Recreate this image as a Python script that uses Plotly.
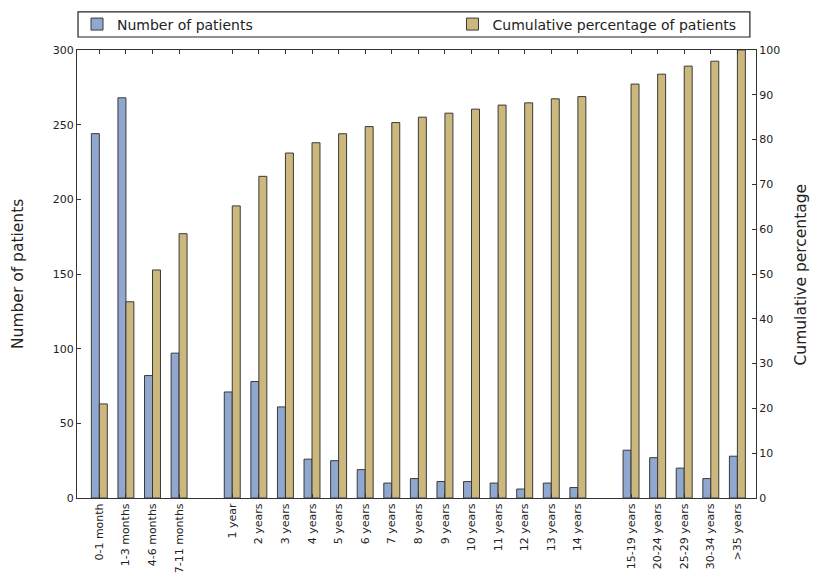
import plotly.graph_objects as go

categories = ["0-1 month", "1-3 months", "4-6 months", "7-11 months",
              "1 year", "2 years", "3 years", "4 years", "5 years", "6 years", "7 years",
              "8 years", "9 years", "10 years", "11 years", "12 years", "13 years", "14 years",
              "15-19 years", "20-24 years", "25-29 years", "30-34 years", ">35 years"]
patients = [244, 268, 82, 97,
            71, 78, 61, 26, 25, 19, 10, 13, 11, 11, 10, 6, 10, 7,
            32, 27, 20, 13, 28]
cumulative_pct = [21.0, 43.8, 50.9, 59.0,
                  65.2, 71.8, 77.0, 79.3, 81.3, 82.9, 83.8, 85.0, 85.9, 86.8, 87.7, 88.2, 89.1, 89.6,
                  92.4, 94.6, 96.4, 97.5, 100.0]
group_breaks = [4, 18]  # a blank slot is left before these category indices
left_ticks = [0, 50, 100, 150, 200, 250, 300]
right_ticks = [0, 10, 20, 30, 40, 50, 60, 70, 80, 90, 100]

xpos = []
shift = 0
for i in range(len(categories)):
    if i in group_breaks:
        shift += 1
    xpos.append(i + shift)

BLUE = "#90a7d0"
TAN = "#ccb87d"
EDGE = "#3a3a3a"
FONT = "DejaVu Sans"

fig = go.Figure()
fig.add_trace(go.Bar(x=xpos, y=patients, name="Number of patients",
                     offset=-0.3, width=0.3, yaxis="y", legend="legend",
                     marker=dict(color=BLUE, line=dict(color=EDGE, width=1))))
fig.add_trace(go.Bar(x=xpos, y=cumulative_pct, name="Cumulative percentage of patients",
                     offset=0.0, width=0.3, yaxis="y2", legend="legend2",
                     marker=dict(color=TAN, line=dict(color=EDGE, width=1))))

legend_common = dict(orientation="h", yanchor="middle", y=1.057,
                     bgcolor="rgba(0,0,0,0)", borderwidth=0,
                     font=dict(family=FONT, size=14, color="#222"), itemwidth=30)

# the page body adds an 8px offset, so the figure is 8px smaller on each axis
fig.update_layout(
    width=810, height=575,
    margin=dict(l=69, r=62, t=42, b=85, autoexpand=False),
    paper_bgcolor="white", plot_bgcolor="white",
    font=dict(family=FONT, size=11, color="#222"),
    barmode="overlay",
    showlegend=True,
    legend=dict(x=0.0, xanchor="left", **legend_common),
    legend2=dict(x=0.553, xanchor="left", **legend_common),
    shapes=[dict(type="rect", xref="paper", yref="paper", x0=0.0015, x1=0.991,
                 y0=1.029, y1=1.085, line=dict(color="#222", width=1.2),
                 fillcolor="rgba(0,0,0,0)", layer="above")],
    annotations=[
        dict(text="Number of patients", xref="paper", yref="paper",
             x=-0.0869, y=0.5, xanchor="center", yanchor="middle",
             textangle=-90, showarrow=False,
             font=dict(family=FONT, size=15.5, color="#222")),
        dict(text="Cumulative percentage", xref="paper", yref="paper",
             x=1.067, y=0.5, xanchor="center", yanchor="middle",
             textangle=-90, showarrow=False,
             font=dict(family=FONT, size=15.5, color="#222")),
    ],
    xaxis=dict(range=[-0.84, 24.7], tickmode="array", tickvals=xpos, ticktext=categories,
               tickangle=-90, ticks="inside", ticklen=4, tickcolor="#333",
               showline=True, linecolor="#333", linewidth=1, mirror="ticks",
               showgrid=False, zeroline=False, tickfont=dict(size=11), automargin=False),
    yaxis=dict(range=[0, 300], tickmode="array", tickvals=left_ticks,
               ticks="inside", ticklen=4, tickcolor="#333",
               showline=True, linecolor="#333", linewidth=1, mirror=False,
               showgrid=False, zeroline=False, tickfont=dict(size=11), automargin=False),
    yaxis2=dict(range=[0, 100], overlaying="y", side="right", tickmode="array",
                tickvals=right_ticks, ticks="inside", ticklen=4, tickcolor="#333",
                showline=True, linecolor="#333", linewidth=1, automargin=False,
                showgrid=False, zeroline=False, tickfont=dict(size=11)),
)

fig.write_html("out.html")
